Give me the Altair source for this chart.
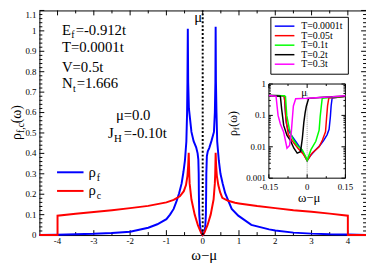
import altair as alt
import pandas as pd

FONT = "Liberation Serif"

# ---------------- main panel data ----------------
RHO_F_X = [-4.5, -4.0, -3.5, -3.0, -2.5, -2.0, -1.75, -1.5, -1.25, -1.0, -0.9, -0.8,
           -0.72, -0.65, -0.58, -0.53, -0.49, -0.45, -0.43, -0.42, -0.41, -0.40, -0.38,
           -0.31, -0.25, -0.18, -0.14, -0.12, -0.11, -0.105, -0.095, -0.07, -0.045, -0.02,
           0.0,
           0.02, 0.045, 0.07, 0.088, 0.095, 0.10, 0.115, 0.14, 0.18, 0.24, 0.31, 0.335,
           0.35, 0.357, 0.365, 0.38, 0.40, 0.445, 0.49, 0.55, 0.62, 0.71, 0.80, 0.98,
           1.34, 1.83, 2.0, 2.5, 3.0, 3.5, 4.0, 4.5]
RHO_F_Y = [0.0, 0.002, 0.004, 0.006, 0.010, 0.016, 0.026, 0.036, 0.053, 0.078, 0.10, 0.128,
           0.166, 0.205, 0.253, 0.31, 0.364, 0.458, 0.6, 0.75, 1.01, 0.75, 0.62,
           0.505, 0.46, 0.43, 0.40, 0.37, 0.30, 0.20, 0.10, 0.04, 0.016, 0.004,
           0.0,
           0.004, 0.016, 0.04, 0.10, 0.20, 0.30, 0.387, 0.41, 0.426, 0.46, 0.505, 0.6,
           0.75, 1.02, 0.75, 0.6, 0.458, 0.364, 0.30, 0.253, 0.205, 0.166, 0.128, 0.095,
           0.05, 0.028, 0.022, 0.012, 0.007, 0.004, 0.003, 0.0]

RHO_C_X = [-4.5, -4.0, -4.0, -3.5, -3.0, -2.5, -2.0, -1.5, -1.0, -0.8, -0.63, -0.52,
           -0.46, -0.42, -0.40, -0.385, -0.37, -0.36, -0.31, -0.22, -0.13, -0.045, 0.0,
           0.045, 0.13, 0.22, 0.30, 0.335, 0.345, 0.357, 0.37, 0.39, 0.43, 0.48, 0.54,
           0.70, 0.89, 1.0, 1.5, 2.0, 2.5, 3.0, 3.5, 4.0, 4.0, 4.5]
RHO_C_Y = [0.0, 0.0, 0.095, 0.104, 0.113, 0.122, 0.132, 0.143, 0.16, 0.172, 0.19, 0.215,
           0.245, 0.29, 0.34, 0.403, 0.30, 0.253, 0.174, 0.10, 0.047, 0.011, 0.0,
           0.011, 0.047, 0.10, 0.174, 0.253, 0.30, 0.403, 0.34, 0.29, 0.245, 0.21, 0.182,
           0.168, 0.158, 0.155, 0.142, 0.132, 0.122, 0.114, 0.105, 0.095, 0.0, 0.0]

MU = 0.0

# ---------------- inset data ----------------
T_LABELS = ["T=0.0001t", "T=0.05t", "T=0.1t", "T=0.2t", "T=0.3t"]
T_COLORS = ["#0000ff", "#ff0000", "#00ff00", "#000000", "#ff00ff"]

T1_X = [-0.15, -0.1, -0.09, -0.088, -0.085, -0.082, -0.075, -0.06, -0.04, -0.02, 0.0,
        0.015, 0.03, 0.05, 0.065, 0.078, 0.086, 0.091, 0.094, 0.098, 0.12, 0.15]
T1_Y = [0.43, 0.42, 0.41, 0.3, 0.12, 0.06, 0.035, 0.022, 0.013, 0.0075, 0.0036,
        0.0055, 0.0075, 0.011, 0.016, 0.024, 0.036, 0.09, 0.2, 0.36, 0.38, 0.41]
T2_X = [-0.15, -0.1, -0.09, -0.087, -0.084, -0.08, -0.074, -0.06, -0.036, -0.015, 0.0,
        0.02, 0.047, 0.06, 0.072, 0.076, 0.08, 0.085, 0.12, 0.15]
T2_Y = [0.43, 0.42, 0.41, 0.25, 0.1, 0.05, 0.025, 0.016, 0.009, 0.0058, 0.0036,
        0.0064, 0.010, 0.0165, 0.03, 0.08, 0.2, 0.36, 0.38, 0.41]
T3_X = [-0.15, -0.09, -0.085, -0.08, -0.07, -0.057, -0.039, -0.019, -0.006, 0.0,
        0.015, 0.034, 0.047, 0.051, 0.055, 0.059, 0.1, 0.15]
T3_Y = [0.43, 0.42, 0.4, 0.1, 0.037, 0.018, 0.011, 0.0079, 0.0049, 0.0037,
        0.0081, 0.015, 0.034, 0.09, 0.18, 0.35, 0.38, 0.41]
T4_X = [-0.15, -0.105, -0.1, -0.092, -0.079, -0.066, -0.052, -0.039, -0.026, -0.019,
        -0.013, -0.008, -0.003, 0.006, 0.05, 0.1, 0.15]
T4_Y = [0.43, 0.41, 0.16, 0.048, 0.023, 0.016, 0.009, 0.0063, 0.007, 0.018,
        0.06, 0.12, 0.2, 0.35, 0.37, 0.39, 0.41]
T5_X = [-0.15, -0.122, -0.118, -0.114, -0.105, -0.092, -0.079, -0.069, -0.062, -0.058,
        -0.054, -0.045, 0.0, 0.05, 0.1, 0.15]
T5_Y = [0.43, 0.41, 0.2, 0.1, 0.053, 0.029, 0.009, 0.011, 0.03, 0.08,
        0.2, 0.34, 0.35, 0.37, 0.39, 0.42]
T_SERIES = [(T1_X, T1_Y), (T2_X, T2_Y), (T3_X, T3_Y), (T4_X, T4_Y), (T5_X, T5_Y)]

# ---------------- ticks ----------------
MAIN_X_TICKS = [-4, -3, -2, -1, 0, 1, 2, 3, 4]
MAIN_X_LABELS = ["-4", "-3", "-2", "-1", "0", "1", "2", "3", "4"]
MAIN_X_MINOR = [-3.5, -2.5, -1.5, -0.5, 0.5, 1.5, 2.5, 3.5]
MAIN_Y_TICKS = [0, 0.1, 0.2, 0.3, 0.4, 0.5, 0.6, 0.7, 0.8, 0.9, 1, 1.1]
MAIN_Y_LABELS = ["0", "0.1", "0.2", "0.3", "0.4", "0.5", "0.6", "0.7", "0.8", "0.9", "1", "1.1"]
MAIN_Y_MINOR = [round(0.02 * k, 2) for k in range(1, 55) if k % 5 != 0]
INSET_Y_TICKS = [0.001, 0.01, 0.1, 1]
INSET_Y_LABELS = ["0.001", "0.01", "0.1", "1"]
INSET_Y_MINOR = [m * d for d in (0.001, 0.01, 0.1) for m in range(2, 10)]
INSET_X_TICKS = [-0.15, 0.0, 0.15]
INSET_X_LABELS = ["-0.15", "0", "0.15"]
INSET_X_MINOR = [-0.075, 0.075]

# ---------------- layout ----------------
W, H = 333, 229
IX0, IX1, IYT, IYB = 234, 312, 75, 171

XS = alt.Scale(domain=[-4.5, 4.5], nice=False, zero=False)
YS = alt.Scale(domain=[0, 1.1], nice=False, zero=False)
IXS = alt.Scale(domain=[-0.15, 0.15], range=[IX0, IX1], nice=False, zero=False)
IYS = alt.Scale(type="log", domain=[0.001, 1], range=[IYB, IYT], nice=False)

ONE = pd.DataFrame({"k": [0]})


def txt(text, x, y, size=15, align="left", baseline="alphabetic", angle=0, color="black"):
    return alt.Chart(ONE).mark_text(
        text=text, align=align, baseline=baseline, fontSize=size, font=FONT,
        angle=angle, color=color
    ).encode(x=alt.value(x), y=alt.value(y))


def vticks(vals, scale, y0, y1):
    return alt.Chart(pd.DataFrame({"v": vals})).mark_rule(color="black", strokeWidth=1).encode(
        x=alt.X("v:Q", scale=scale, axis=None), y=alt.value(y0), y2=alt.value(y1))


def hticks(vals, scale, x0, x1):
    return alt.Chart(pd.DataFrame({"v": vals})).mark_rule(color="black", strokeWidth=1).encode(
        y=alt.Y("v:Q", scale=scale, axis=None), x=alt.value(x0), x2=alt.value(x1))


def xlabels(vals, labs, scale, y, size=9):
    return alt.Chart(pd.DataFrame({"v": vals, "t": labs})).mark_text(
        font=FONT, fontSize=size, align="center", baseline="top", color="black").encode(
        x=alt.X("v:Q", scale=scale, axis=None), y=alt.value(y), text="t:N")


def ylabels(vals, labs, scale, x, size=9):
    return alt.Chart(pd.DataFrame({"v": vals, "t": labs})).mark_text(
        font=FONT, fontSize=size, align="right", baseline="middle", color="black").encode(
        y=alt.Y("v:Q", scale=scale, axis=None), x=alt.value(x), text="t:N")


df_f = pd.DataFrame({"x": RHO_F_X, "y": RHO_F_Y, "i": range(len(RHO_F_X))})
df_c = pd.DataFrame({"x": RHO_C_X, "y": RHO_C_Y, "i": range(len(RHO_C_X))})

blue = alt.Chart(df_f).mark_line(color="#0000ff", strokeWidth=2).encode(
    x=alt.X("x:Q", scale=XS, axis=None), y=alt.Y("y:Q", scale=YS, axis=None),
    order="i:Q")
red = alt.Chart(df_c).mark_line(color="#ff0000", strokeWidth=2).encode(
    x=alt.X("x:Q", scale=XS, axis=None), y=alt.Y("y:Q", scale=YS, axis=None),
    order="i:Q")
mu_line = alt.Chart(pd.DataFrame({"x": [MU], "y0": [0.0], "y1": [1.1]})).mark_rule(
    color="black", strokeWidth=2, strokeDash=[2, 2]).encode(
    x=alt.X("x:Q", scale=XS, axis=None), y=alt.Y("y0:Q", scale=YS, axis=None), y2="y1:Q")

main_parts = [
    vticks(MAIN_X_TICKS, XS, H, H - 5), vticks(MAIN_X_MINOR, XS, H, H - 3),
    vticks(MAIN_X_TICKS, XS, 0, 5), vticks(MAIN_X_MINOR, XS, 0, 3),
    hticks(MAIN_Y_TICKS, YS, 0, 5), hticks(MAIN_Y_MINOR, YS, 0, 3),
    hticks(MAIN_Y_TICKS, YS, W, W - 5), hticks(MAIN_Y_MINOR, YS, W, W - 3),
    xlabels(MAIN_X_TICKS, MAIN_X_LABELS, XS, H + 2),
    ylabels(MAIN_Y_TICKS[:-1], MAIN_Y_LABELS[:-1], YS, -3),
    txt(MAIN_Y_LABELS[-1], -3, 4.5, size=9, align="right", baseline="middle"),
    blue, red, mu_line,
    txt("\u03bc", 158, 12),
    # parameters
    txt("E", 23, 25), txt("f", 32.5, 28, size=10), txt("=-0.912t", 37, 25),
    txt("T=0.0001t", 23, 42),
    txt("V=0.5t", 23, 63),
    txt("N", 23, 79), txt("t", 34.3, 83, size=10), txt("=1.666", 38, 79),
    txt("\u03bc=0.0", 78, 112),
    txt("J", 70, 130), txt("H", 76, 134, size=11), txt("=-0.10t", 86, 130),
    # rho legend
    alt.Chart(ONE).mark_rule(color="#0000ff", strokeWidth=2).encode(
        x=alt.value(18), x2=alt.value(45), y=alt.value(165)),
    alt.Chart(ONE).mark_rule(color="#ff0000", strokeWidth=2).encode(
        x=alt.value(18), x2=alt.value(45), y=alt.value(184)),
    txt("\u03c1", 50, 169.5), txt("f", 58.5, 173.5, size=10),
    txt("\u03c1", 50, 188.5), txt("c", 58.5, 192.5, size=10),
    # axis titles
    txt("\u03c9\u2212\u03bc", 168, 249, size=15, align="center", baseline="middle"),
    txt("\u03c1", -19, 132, size=14, angle=270), txt("f,c", -16, 125, size=10, angle=270),
    txt("(\u03c9)", -19, 115, size=14, angle=270),
    # T legend box
    alt.Chart(ONE).mark_rect(fill="white", stroke="black", strokeWidth=1).encode(
        x=alt.value(236), x2=alt.value(315), y=alt.value(7), y2=alt.value(65)),
]
for k, (lab, col) in enumerate(zip(T_LABELS, T_COLORS)):
    yy = 16 + 9.7 * k
    main_parts.append(alt.Chart(ONE).mark_rule(color=col, strokeWidth=1.5).encode(
        x=alt.value(240), x2=alt.value(260), y=alt.value(yy)))
    main_parts.append(txt(lab, 267, yy, size=10, baseline="middle"))

main_layer = alt.layer(*main_parts)

# ---------------- inset ----------------
frame_df = pd.DataFrame({"x0": [-0.15], "x1": [0.15], "y0": [0.001], "y1": [1.0]})
inset_frame = alt.Chart(frame_df).mark_rect(fill="white", stroke="black", strokeWidth=1).encode(
    x=alt.X("x0:Q", scale=IXS, axis=None), x2="x1:Q",
    y=alt.Y("y0:Q", scale=IYS, axis=None), y2="y1:Q")
inset_mu = alt.Chart(pd.DataFrame({"x": [MU], "y0": [0.001], "y1": [0.5]})).mark_rule(
    color="#999999", strokeWidth=1, strokeDash=[1, 1]).encode(
    x=alt.X("x:Q", scale=IXS, axis=None), y=alt.Y("y0:Q", scale=IYS, axis=None), y2="y1:Q")

inset_parts = [inset_frame, inset_mu,
               vticks(INSET_X_TICKS, IXS, IYB, IYB - 4), vticks(INSET_X_MINOR, IXS, IYB, IYB - 2),
               vticks(INSET_X_TICKS, IXS, IYT, IYT + 4), vticks(INSET_X_MINOR, IXS, IYT, IYT + 2),
               hticks(INSET_Y_TICKS, IYS, IX0, IX0 + 4), hticks(INSET_Y_MINOR, IYS, IX0, IX0 + 2),
               hticks(INSET_Y_TICKS, IYS, IX1, IX1 - 4), hticks(INSET_Y_MINOR, IYS, IX1, IX1 - 2)]
for (xs_, ys_), col in zip(T_SERIES, T_COLORS):
    d = pd.DataFrame({"x": xs_, "y": ys_, "i": range(len(xs_))})
    inset_parts.append(alt.Chart(d).mark_line(color=col, strokeWidth=1.5).encode(
        x=alt.X("x:Q", scale=IXS, axis=None), y=alt.Y("y:Q", scale=IYS, axis=None),
        order="i:Q"))

inset_parts.append(ylabels(INSET_Y_TICKS, INSET_Y_LABELS, IYS, IX0 - 3))
inset_parts.append(xlabels(INSET_X_TICKS, INSET_X_LABELS, IXS, IYB + 5))
inset_parts += [
    txt("\u03bc", 270, 87, size=11, align="center"),
    txt("\u03c9\u2212\u03bc", 275, 191, size=13, align="center", baseline="middle"),
    txt("\u03c1", 201, 128, size=12, angle=270), txt("f", 204, 122, size=8, angle=270),
    txt("(\u03c9)", 201, 118.5, size=12, angle=270),
]
inset_layer = alt.layer(*inset_parts)

chart = alt.layer(main_layer, inset_layer).resolve_scale(
    x="independent", y="independent"
).properties(
    width=W, height=H,
    autosize=alt.AutoSizeParams(type="none"),
    padding={"left": 32, "top": 0, "right": 0, "bottom": 27},
).configure_view(stroke="black", strokeWidth=1)

chart.save("out.html", embed_options={"renderer": "svg", "actions": False})
